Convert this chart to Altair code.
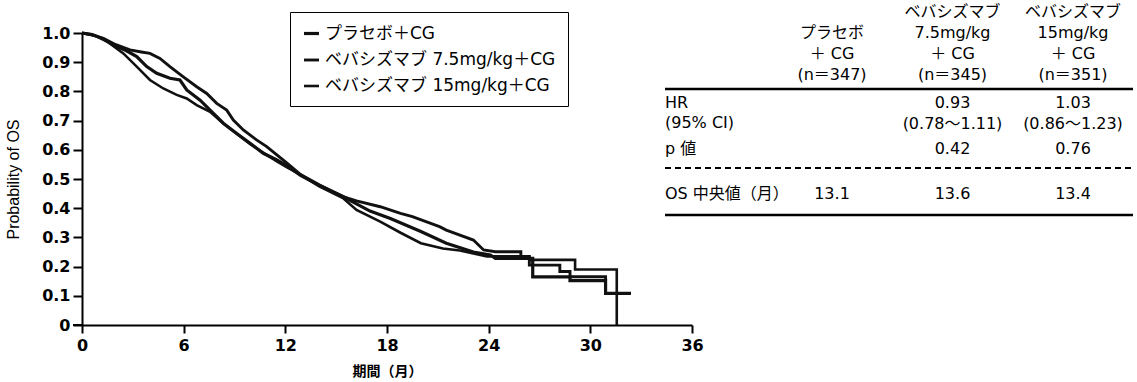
import altair as alt
import pandas as pd

groups = ["プラセボ＋CG", "ベバシズマブ 7.5mg/kg＋CG", "ベバシズマブ 15mg/kg＋CG"]

placebo_month = [0, 0.6, 1.26, 1.85, 2.6, 3.23, 3.82, 4.41, 5.19, 5.78, 6.18, 6.97, 7.56, 8.34, 9.13, 9.92, 10.7, 11.5, 12.1, 12.9, 14.0, 15.4, 16.2, 17.0, 18.2, 20.0, 21.5, 23.1, 24.1, 24.4, 26.6, 26.6, 28.8, 28.8, 30.9, 30.9, 32.4]
placebo_surv = [1.0, 0.995, 0.98, 0.959, 0.94, 0.919, 0.885, 0.862, 0.845, 0.839, 0.805, 0.77, 0.736, 0.691, 0.656, 0.622, 0.588, 0.565, 0.545, 0.512, 0.478, 0.44, 0.415, 0.39, 0.365, 0.32, 0.28, 0.25, 0.24, 0.228, 0.228, 0.165, 0.165, 0.152, 0.152, 0.108, 0.108]

bev75_month = [0, 0.5, 1.26, 2.0, 2.83, 3.5, 4.01, 4.6, 5.19, 5.98, 6.77, 7.36, 7.95, 8.54, 8.93, 9.52, 10.3, 10.9, 12.1, 12.9, 14.0, 15.4, 16.2, 17.6, 18.8, 19.5, 21.1, 21.5, 23.1, 23.7, 24.4, 25.9, 25.9, 26.4, 26.4, 28.2, 28.2, 28.8, 28.8, 30.9, 30.9]
bev75_surv = [1.0, 0.995, 0.982, 0.96, 0.942, 0.935, 0.93, 0.913, 0.885, 0.85, 0.816, 0.793, 0.759, 0.736, 0.702, 0.668, 0.634, 0.611, 0.554, 0.515, 0.48, 0.44, 0.425, 0.405, 0.382, 0.371, 0.337, 0.325, 0.291, 0.257, 0.251, 0.251, 0.234, 0.234, 0.205, 0.205, 0.183, 0.183, 0.165, 0.165, 0.152]

bev15_month = [0, 0.8, 1.5, 2.44, 3.23, 4.01, 4.8, 5.59, 6.18, 6.77, 7.56, 8.34, 9.13, 9.92, 10.7, 11.5, 12.1, 12.9, 14.0, 15.4, 16.2, 17.6, 18.8, 20.0, 21.3, 22.3, 23.1, 23.9, 26.4, 26.4, 29.1, 29.1, 31.56, 31.56]
bev15_surv = [1.0, 0.99, 0.97, 0.93, 0.885, 0.839, 0.81, 0.788, 0.776, 0.753, 0.73, 0.69, 0.655, 0.62, 0.59, 0.56, 0.54, 0.515, 0.475, 0.435, 0.394, 0.354, 0.316, 0.28, 0.262, 0.255, 0.245, 0.235, 0.235, 0.223, 0.223, 0.19, 0.19, 0.0]

x_ticks = [0, 6, 12, 18, 24, 30, 36]
y_ticks = [0, 0.1, 0.2, 0.3, 0.4, 0.5, 0.6, 0.7, 0.8, 0.9, 1.0]

# table content
table_cols = ["placebo", "bev75", "bev15"]
header_text = ["\nプラセボ\n＋ CG\n(n＝347)", "ベバシズマブ\n7.5mg/kg\n＋ CG\n(n＝345)", "ベバシズマブ\n15mg/kg\n＋ CG\n(n＝351)"]
hr_text = ["", "0.93\n(0.78～1.11)", "1.03\n(0.86～1.23)"]
p_text = ["", "0.42", "0.76"]
os_text = ["13.1", "13.6", "13.4"]
row_keys = ["header", "gap", "hr", "p", "os"]
label_rows = ["hr", "p", "os"]
row_labels = ["HR\n(95% CI)", "p 値", "OS 中央値（月）"]

rows = []
for g, ms, ss in [(groups[0], placebo_month, placebo_surv),
                  (groups[1], bev75_month, bev75_surv),
                  (groups[2], bev15_month, bev15_surv)]:
    for i, (m, s) in enumerate(zip(ms, ss)):
        rows.append({"group": g, "month": m, "surv": s, "order": i})
km_df = pd.DataFrame(rows)

cell_rows = []
for r, texts in [("header", header_text), ("hr", hr_text), ("p", p_text), ("os", os_text)]:
    for c, t in zip(table_cols, texts):
        cell_rows.append({"col": c, "row": r, "text": t})
cell_df = pd.DataFrame(cell_rows)
lab_df = pd.DataFrame({"row": label_rows, "text": row_labels})

NUM_FONT = "DejaVu Sans, Noto Sans CJK JP"
JP_FONT = "Noto Sans CJK JP"

leg = dict(title=None, orient="none", legendX=208, legendY=-21,
           symbolType="stroke", symbolSize=225,
           labelFont=NUM_FONT, labelFontSize=17,
           labelColor="black", labelLimit=500,
           strokeColor="black", fillColor="white",
           padding=12, rowPadding=9)

km = alt.Chart(km_df).mark_line(interpolate="linear").encode(
    x=alt.X("month:Q",
            scale=alt.Scale(domain=[0, 36], nice=False, zero=False),
            axis=alt.Axis(values=x_ticks, title="期間（月）", grid=False,
                          domainColor="black", domainWidth=2, tickColor="black",
                          tickWidth=2, tickSize=8, labelFont="DejaVu Sans",
                          labelFontWeight="bold", labelFontSize=16, labelColor="black",
                          labelPadding=4, labelFlush=False,
                          titleFont=JP_FONT, titleFontSize=14, titleFontWeight="bold",
                          titleColor="black", titleY=46, titleBaseline="middle")),
    y=alt.Y("surv:Q",
            scale=alt.Scale(domain=[0, 1], nice=False),
            axis=alt.Axis(values=y_ticks, title="Probability of OS", grid=False,
                          labelExpr="datum.value == 0 ? '0' : format(datum.value, '.1f')",
                          domainColor="black", domainWidth=2, tickColor="black",
                          tickWidth=2, tickSize=9, labelFont="DejaVu Sans",
                          labelFontWeight="bold", labelFontSize=16, labelColor="black",
                          labelPadding=3, labelFlush=False,
                          titleFont="Liberation Sans", titleFontSize=16,
                          titleFontWeight="normal", titleColor="black",
                          titleX=-69, titleBaseline="middle")),
    color=alt.Color("group:N", scale=alt.Scale(domain=groups, range=["#111111"] * 3),
                    legend=alt.Legend(**leg)),
    strokeWidth=alt.StrokeWidth("group:N", scale=alt.Scale(domain=groups, range=[3.2, 2.6, 1.7]),
                                legend=alt.Legend(**leg)),
    detail="group:N",
    order="order:Q",
)

tx = alt.X("col:N", scale=alt.Scale(type="point", domain=table_cols, range=[750, 991], padding=0), axis=None)
ty = alt.Y("row:N", scale=alt.Scale(type="point", domain=row_keys, range=[-21, 161], padding=0), axis=None)

cells = alt.Chart(cell_df).mark_text(baseline="middle", align="center", lineBreak="\n",
                                     lineHeight=21, font=NUM_FONT, fontSize=16,
                                     color="black").encode(x=tx, y=ty, text="text:N")
labels = alt.Chart(lab_df).mark_text(baseline="middle", align="left", lineBreak="\n",
                                     lineHeight=20, font=NUM_FONT, fontSize=16,
                                     color="black").encode(x=alt.value(583), y=ty, text="text:N")

one = alt.Data(values=[{"k": 0}])
rule_top = alt.Chart(one).mark_rule(color="black", strokeWidth=2.5).encode(
    x=alt.value(583), x2=alt.value(1051), y=alt.value(56))
rule_dash = alt.Chart(one).mark_rule(color="black", strokeWidth=2, strokeDash=[6, 4]).encode(
    x=alt.value(583), x2=alt.value(1051), y=alt.value(135))
rule_bot = alt.Chart(one).mark_rule(color="black", strokeWidth=2.5).encode(
    x=alt.value(583), x2=alt.value(1051), y=alt.value(182))
axis_ext = alt.Chart(one).mark_rule(color="black", strokeWidth=2).encode(
    x=alt.value(-9), x2=alt.value(0), y=alt.value(292))

table = alt.layer(cells, labels, rule_top, rule_dash, rule_bot, axis_ext)

chart = alt.layer(km, table).resolve_scale(x="independent", y="independent").properties(
    width=610, height=292,
    padding={"left": 82, "top": 33, "right": 445, "bottom": 57},
    autosize=alt.AutoSizeParams(type="none"),
    background="white",
).configure_view(strokeWidth=0)

chart.save("out.html", embed_options={"renderer": "svg", "actions": False})
